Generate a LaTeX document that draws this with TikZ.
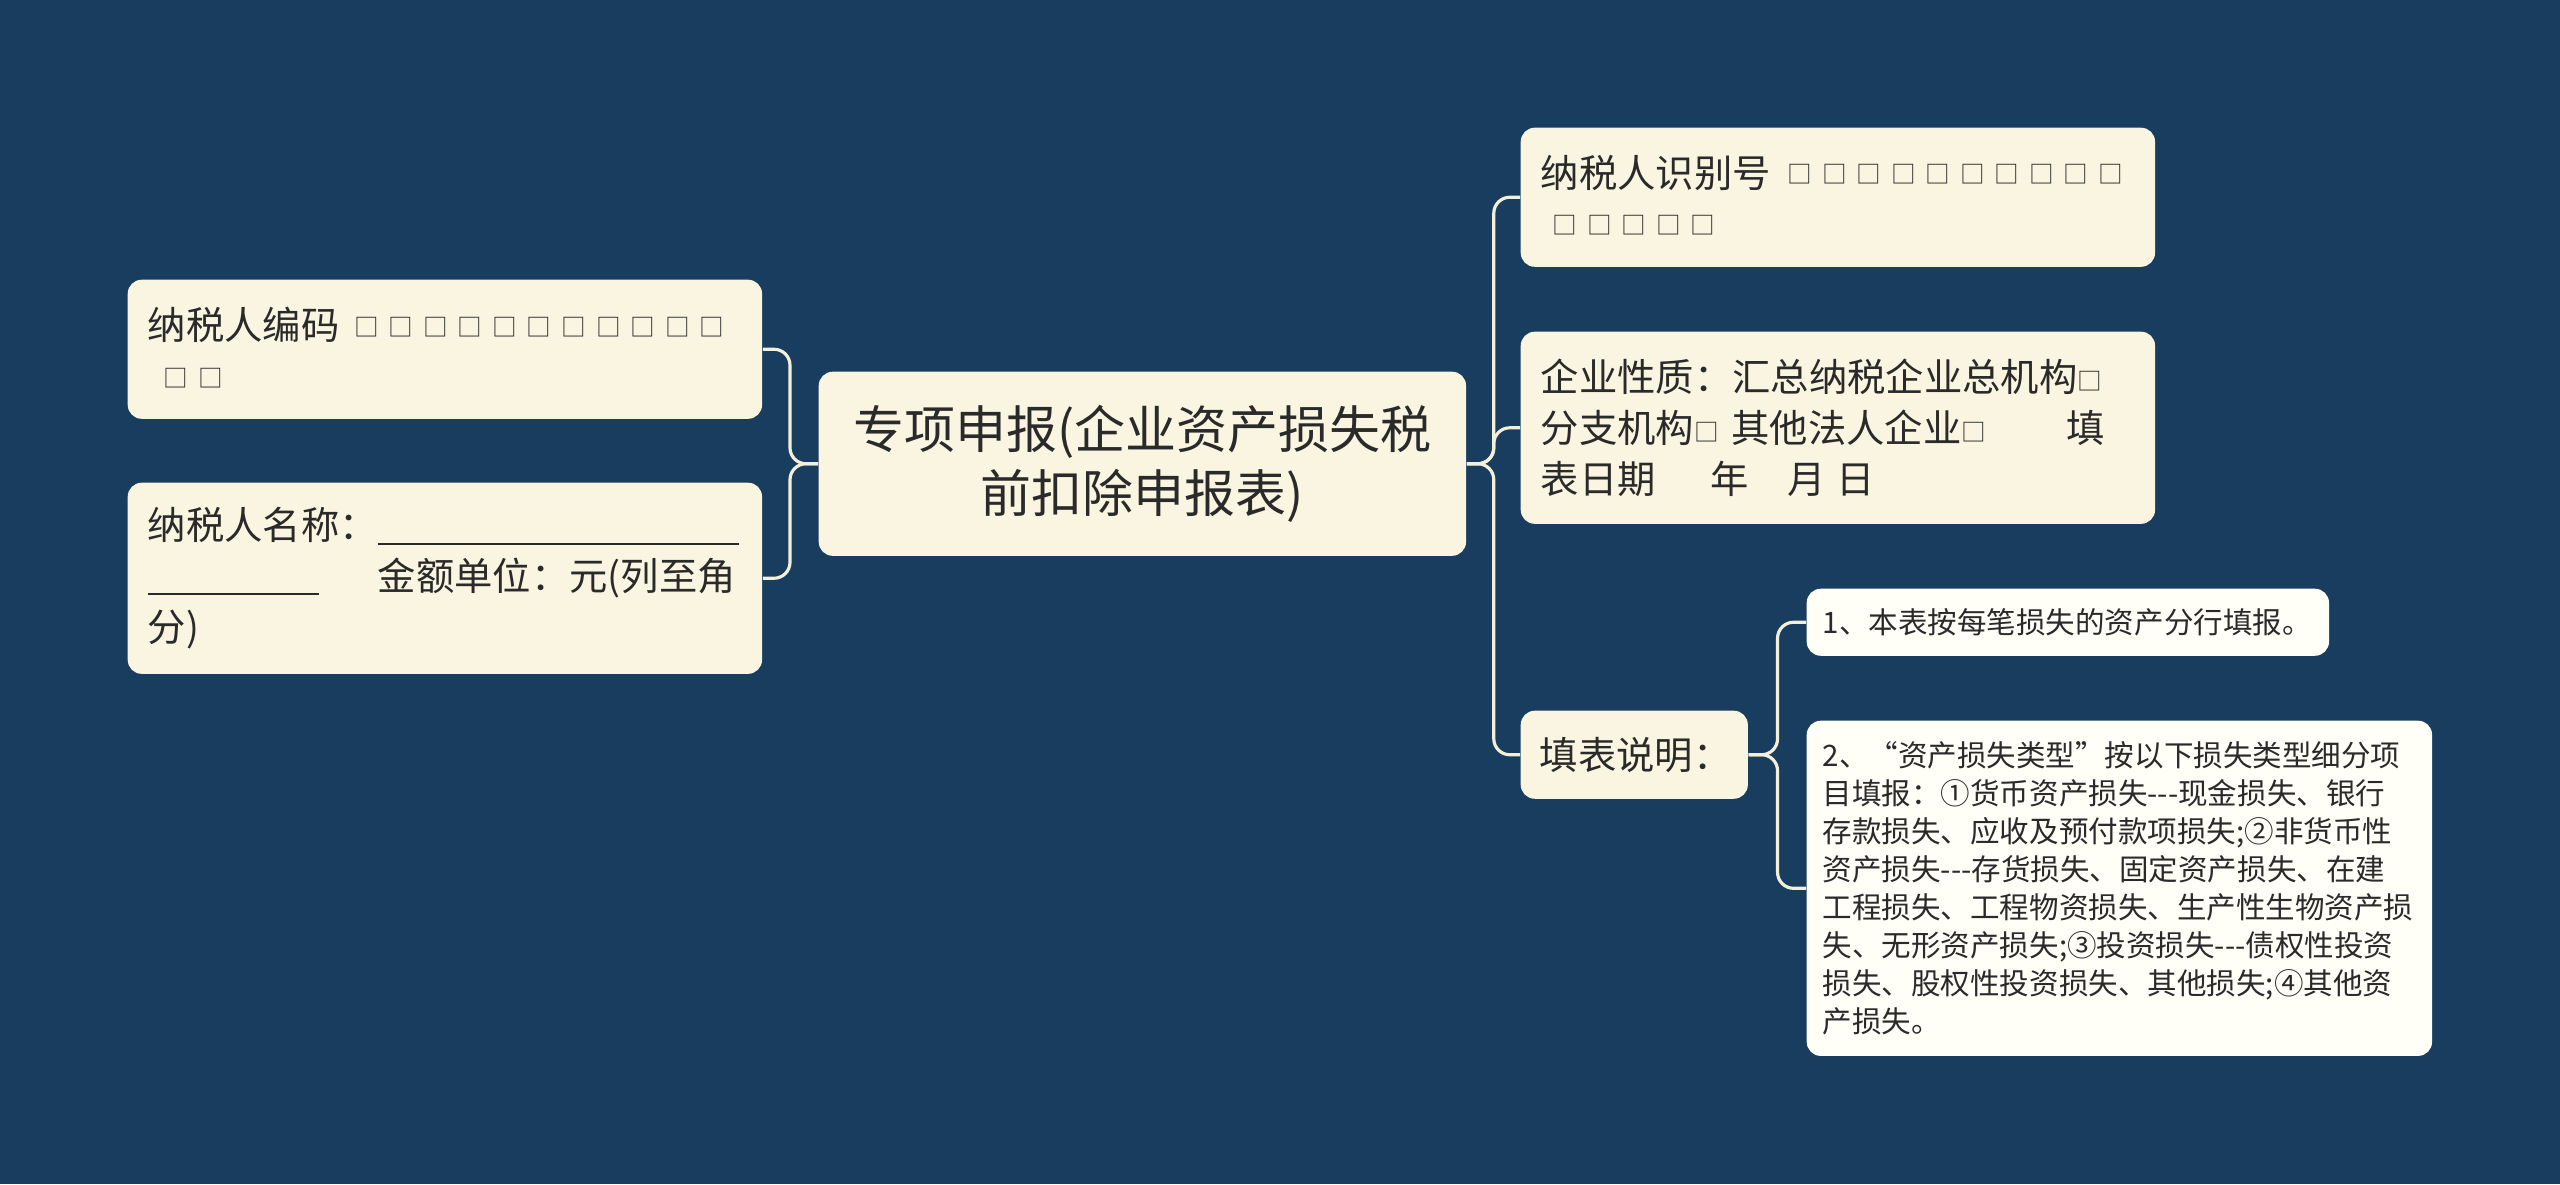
\documentclass[tikz,border=0pt]{standalone}
\usepackage{fontspec}
\setmainfont{Noto Sans CJK SC}
\definecolor{bg}{HTML}{183D5E}
\definecolor{cream}{HTML}{FAF5E1}
\definecolor{paper}{HTML}{FFFEF7}
\definecolor{ink}{HTML}{2A2A2A}
\definecolor{wire}{HTML}{F4EFDA}
\newcommand\bx{\makebox[3.45mm][l]{\raisebox{1.1pt}{\fontsize{7}{7}\selectfont □}}}
\newcommand\sbx{\raisebox{0.4pt}{\fontsize{7}{7}\selectfont □}}

\begin{document}
\begin{tikzpicture}[x=0.01cm,y=-0.01cm,
      box/.style={fill=cream,rounded corners=1.4mm,anchor=north west,align=left,
        inner xsep=2mm,inner ysep=0pt,text=ink,font=\fontsize{10.9}{14.5}\selectfont},
      small/.style={box,fill=paper,inner xsep=1.6mm,font=\fontsize{8.4}{10.8}\selectfont},
      link/.style={draw=wire,line width=0.9pt,rounded corners=1.6mm}]
      \fill[bg] (0,0) rectangle (2560,1184);
      \node[box,align=center,text width=60.7mm,minimum height=18.4mm,
        font=\fontsize{14.5}{18.1}\selectfont] (root) at (818,371)
        {专项申报(企业资产损失税\\前扣除申报表)};
      \node[box,text width=59.4mm,minimum height=13.9mm] (code) at (127,279)
        {纳税人编码\hspace{1.5mm}\bx\bx\bx\bx\bx\bx\bx\bx\bx\bx\bx\\
         \hspace{1.6mm}\bx\bx};
      \node[box,text width=59.4mm,minimum height=19.1mm] (name) at (127,482)
        {纳税人名称：\rule[-0.55mm]{36.1mm}{0.6pt}\\
         \rule[-0.45mm]{17.1mm}{0.6pt}\hspace{5.9mm}金额单位：元(列至角\\
         分)};
      \node[box,text width=59.4mm,minimum height=13.9mm] (id) at (1520,127)
        {纳税人识别号\hspace{1.7mm}\bx\bx\bx\bx\bx\bx\bx\bx\bx\bx\\
         \hspace{1.2mm}\bx\bx\bx\bx\bx};
      \node[box,text width=59.4mm,minimum height=19.2mm] (kind) at (1520,331)
        {企业性质：汇总纳税企业总机构\sbx\\
         \makebox[52.5mm][l]{分支机构\sbx{} 其他法人企业\sbx}填\\
         \makebox[17mm][l]{表日期}\makebox[7.7mm][l]{年}\makebox[4.9mm][l]{月}日};
      \node[box,inner xsep=1.9mm,text width=18.9mm,minimum height=8.8mm] (note) at (1520,710)
        {填表说明：};
      \node[small,text width=49mm,minimum height=6.7mm] (n1) at (1806,588)
        {1、本表按每笔损失的资产分行填报。};
      \node[small,text width=59.3mm,minimum height=33.5mm] (n2) at (1806,720)
        {2、“资产损失类型”按以下损失类型细分项\\
         目填报：①货币资产损失-{}-{}-现金损失、银行\\
         存款损失、应收及预付款项损失;②非货币性\\
         资产损失-{}-{}-存货损失、固定资产损失、在建\\
         工程损失、工程物资损失、生产性生物资产损\\
         失、无形资产损失;③投资损失-{}-{}-债权性投资\\
         损失、股权性投资损失、其他损失;④其他资\\
         产损失。};
      \draw[link] (root.west) -- ++(-28,0) |- (code.east);
      \draw[link] (root.west) -- ++(-28,0) |- (name.east);
      \draw[link] (root.east) -- ++(27,0) |- (id.west);
      \draw[link] (root.east) -- ++(27,0) |- (kind.west);
      \draw[link] (root.east) -- ++(27,0) |- (note.west);
      \draw[link] (note.east) -- ++(29,0) |- (n1.west);
      \draw[link] (note.east) -- ++(29,0) |- (n2.west);
\end{tikzpicture}
\end{document}
